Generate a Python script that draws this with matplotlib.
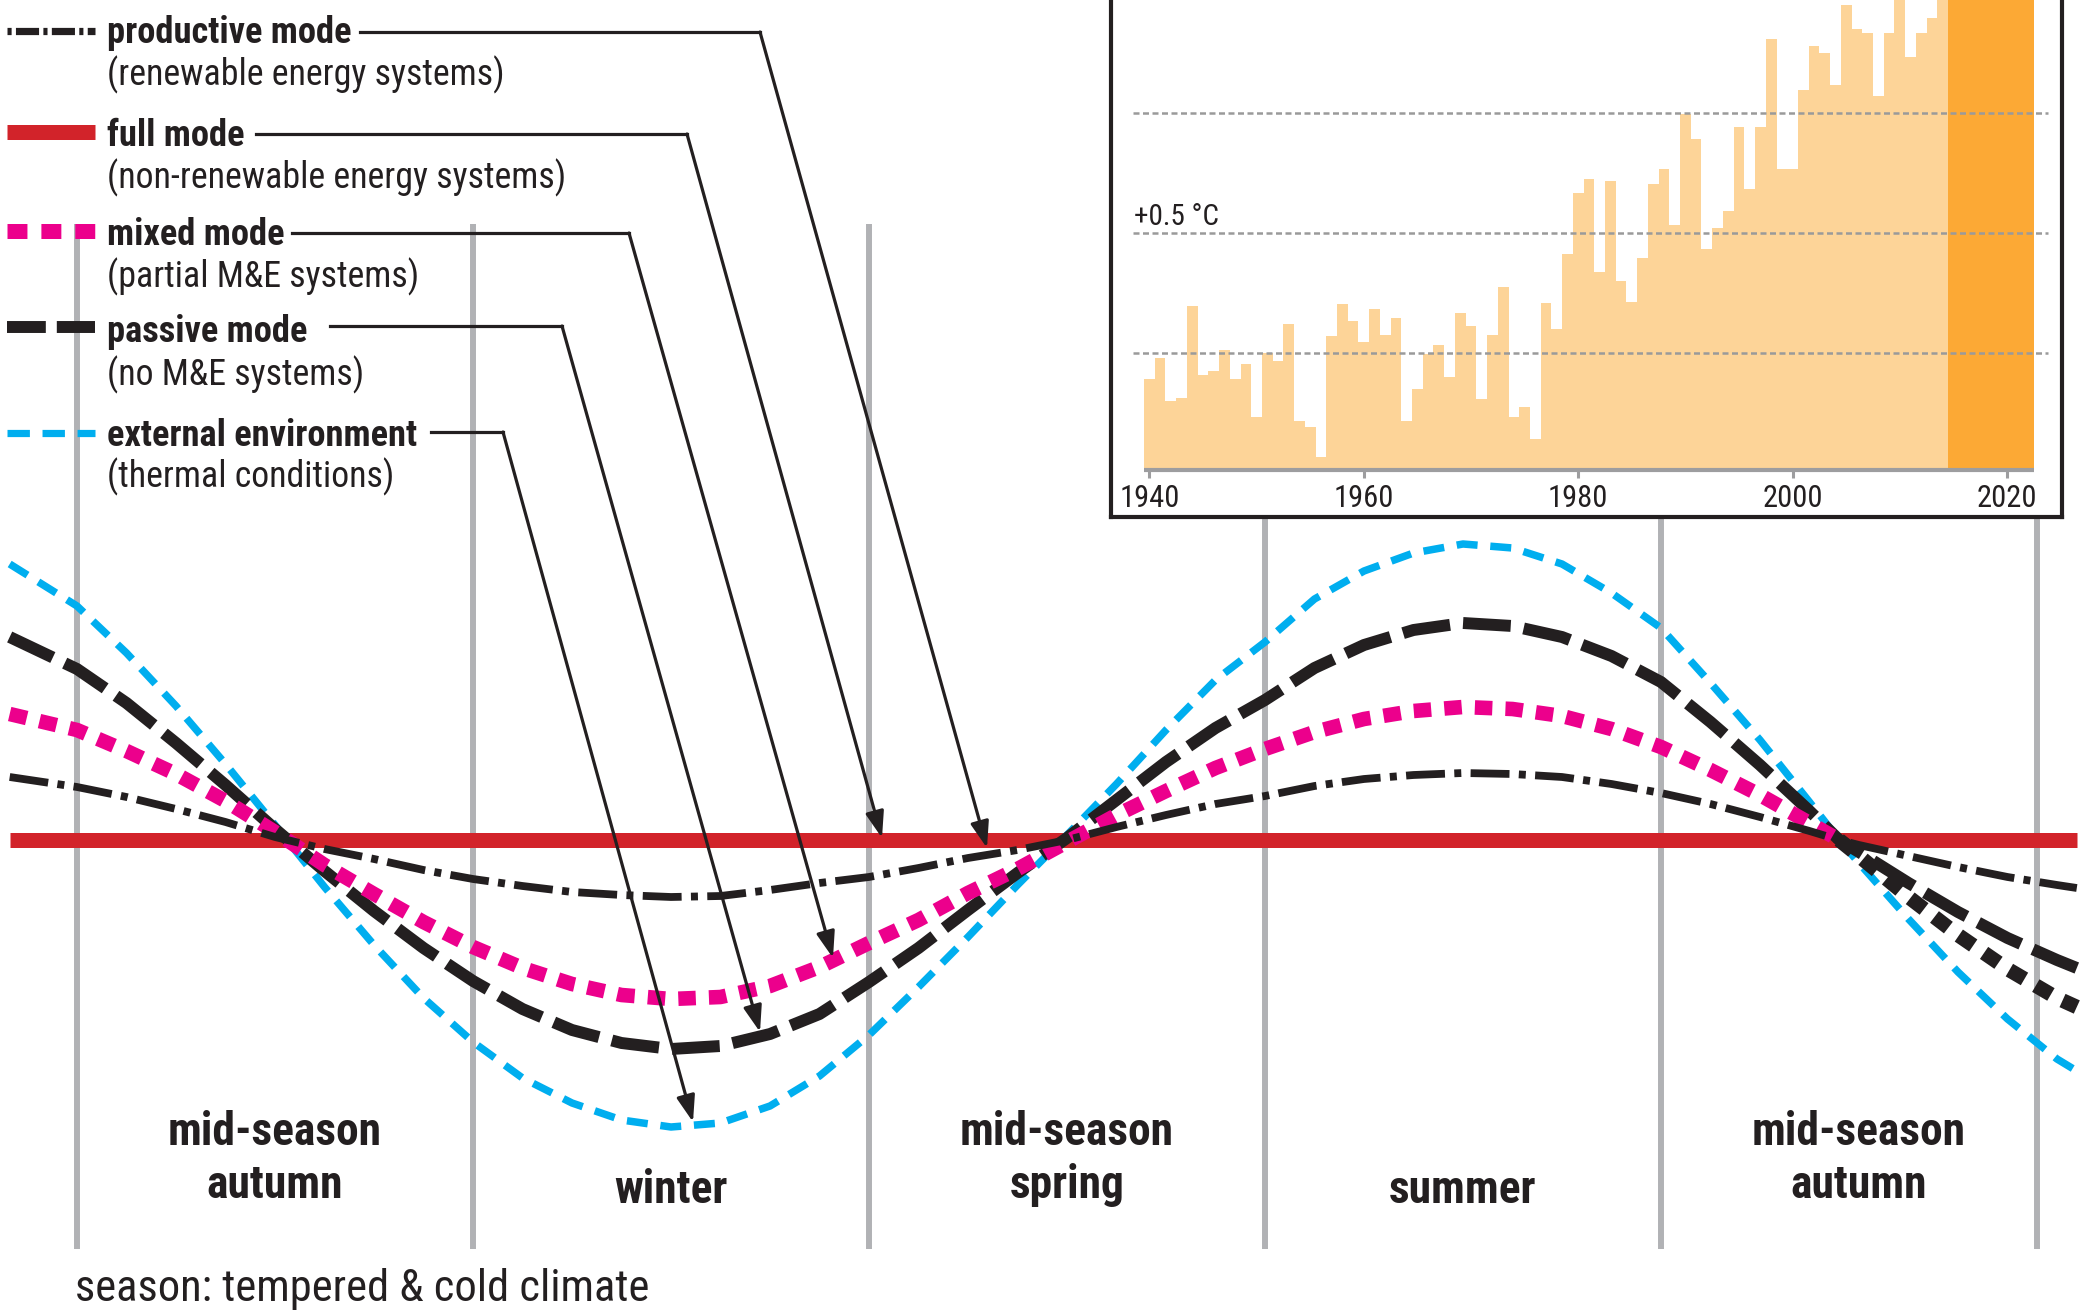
import matplotlib
matplotlib.use('Agg')
import matplotlib.pyplot as plt
from matplotlib import font_manager

W, H = 2090, 1315

# ---- season scheme (x in season units, y = deviation from the full-mode level) ----
season_lines = [0, 1, 2, 3, 4, 4.95]
season_centers = [0.5, 1.5, 2.5, 3.5, 4.5]
season_labels = ['mid-season\nautumn', 'winter', 'mid-season\nspring', 'summer', 'mid-season\nautumn']

s = [-0.17, 0.0, 0.125, 0.25, 0.375, 0.5, 0.625, 0.75, 0.875, 1.0, 1.125, 1.25, 1.375, 1.5,
     1.625, 1.75, 1.875, 2.0, 2.125, 2.25, 2.375, 2.5, 2.625, 2.75, 2.875, 3.0, 3.125, 3.25,
     3.375, 3.5, 3.625, 3.75, 3.875, 4.0, 4.125, 4.25, 4.375, 4.45, 4.5, 4.625, 4.75, 4.875,
     5.0, 5.05]
external = [2.76, 2.34, 1.87, 1.34, 0.76, 0.15, -0.47, -1.05, -1.58, -2.02, -2.38, -2.63, -2.80, -2.87,
            -2.83, -2.66, -2.36, -1.95, -1.47, -0.97, -0.45, 0.05, 0.56, 1.10, 1.60, 1.98, 2.41, 2.69,
            2.87, 2.96, 2.92, 2.76, 2.47, 2.12, 1.57, 1.00, 0.38, 0.0, -0.23, -0.79, -1.32, -1.79,
            -2.19, -2.31]
passive = [2.03, 1.71, 1.37, 0.97, 0.55, 0.11, -0.31, -0.71, -1.08, -1.41, -1.69, -1.90, -2.03, -2.09,
           -2.06, -1.94, -1.74, -1.42, -1.08, -0.70, -0.33, 0.02, 0.40, 0.78, 1.12, 1.40, 1.72, 1.95,
           2.10, 2.17, 2.14, 2.03, 1.84, 1.58, 1.18, 0.75, 0.29, 0.0, -0.12, -0.43, -0.72, -0.98,
           -1.20, -1.28]
mixed = [1.26, 1.10, 0.89, 0.66, 0.39, 0.08, -0.25, -0.54, -0.82, -1.07, -1.28, -1.44, -1.55, -1.59,
         -1.57, -1.46, -1.27, -1.03, -0.80, -0.53, -0.29, -0.02, 0.25, 0.49, 0.72, 0.91, 1.08, 1.21,
         1.29, 1.33, 1.31, 1.24, 1.11, 0.93, 0.70, 0.45, 0.17, 0.0, -0.16, -0.57, -0.95, -1.29,
         -1.58, -1.67]
productive = [0.63, 0.53, 0.43, 0.31, 0.18, 0.03, -0.09, -0.19, -0.30, -0.39, -0.46, -0.52, -0.55, -0.57,
              -0.56, -0.50, -0.43, -0.37, -0.28, -0.18, -0.10, 0.0, 0.13, 0.25, 0.36, 0.44, 0.54, 0.61,
              0.65, 0.67, 0.66, 0.63, 0.56, 0.47, 0.36, 0.23, 0.09, 0.0, -0.05, -0.16, -0.27, -0.37,
              -0.45, -0.48]
mixed_black_from = 4.45   # mixed mode is drawn black after the last crossing

# ---- inset: yearly temperature anomaly (deg C) ----
years = list(range(1940, 2023))
anomaly = [-0.107, -0.019, -0.199, -0.186, 0.197, -0.092, -0.074, 0.014, -0.107, -0.045,
           -0.265, 0.0, -0.032, 0.119, -0.282, -0.31, -0.432, 0.072, 0.205, 0.135,
           0.044, 0.185, 0.074, 0.145, -0.282, -0.151, -0.004, 0.035, -0.099, 0.165,
           0.111, -0.19, 0.074, 0.274, -0.265, -0.226, -0.357, 0.207, 0.099, 0.411,
           0.668, 0.726, 0.336, 0.715, 0.30, 0.214, 0.394, 0.703, 0.768, 0.532,
           0.994, 0.89, 0.432, 0.52, 0.59, 0.94, 0.682, 0.94, 1.307, 0.765,
           0.765, 1.095, 1.278, 1.249, 1.115, 1.449, 1.35, 1.332, 1.072, 1.332,
           1.60, 1.235, 1.332, 1.395, 1.55, 1.85, 1.95, 1.75, 1.80, 1.90,
           1.85, 1.80, 1.90]
dark_from = 2015
bar_base = -0.4875
grid_levels = [0.0, 0.5, 1.0]
year_ticks = [1940, 1960, 1980, 2000, 2020]

ink = '#231f20'
cyan = '#00aeef'
pink = '#ec008c'
red = '#d2232a'
gray = '#b1b2b5'

names = {f.name for f in font_manager.fontManager.ttflist}
FONT = 'DejaVu Sans'
for cand in ['Liberation Sans Narrow', 'Roboto Condensed', 'DejaVu Sans Condensed', 'Liberation Sans']:
    if cand in names:
        FONT = cand
        break
plt.rcParams['font.family'] = [FONT, 'DejaVu Sans']


def P(x, y):
    # picture pixel -> season/deviation coordinates
    return (x - 77) / 396, (840 - y) / 100


fig = plt.figure(figsize=(W / 100, H / 100), dpi=100)
ax = fig.add_axes([0, 0, 1, 1])
ax.set_xlim(P(0, 0)[0], P(W, 0)[0])
ax.set_ylim(P(0, H)[1], P(0, 0)[1])
ax.axis('off')

# season boundaries
ax.vlines(season_lines, P(0, 1249)[1], P(0, 224)[1], color=gray, lw=4.3, zorder=1)

# full mode
ax.plot([s[0], s[-1]], [0, 0], color=red, lw=10.8, solid_capstyle='butt', zorder=2)

ax.plot(s, external, color=cyan, lw=5.4, ls=(0, (2.8, 1.7)), dash_capstyle='butt', zorder=3)
ax.plot(s, passive, color=ink, lw=8.6, ls=(0, (4.0, 1.1)), dash_capstyle='butt', zorder=4)
sp = [x for x in s if x <= mixed_black_from]
sb = [x for x in s if x >= mixed_black_from]
ax.plot(sp, mixed[:len(sp)], color=pink, lw=10.5, ls=(0, (1.2, 0.9)), dash_capstyle='butt', zorder=5)
ax.plot(sb, mixed[len(s) - len(sb):], color=ink, lw=10.5, ls=(0, (1.2, 0.9)), dash_capstyle='butt', zorder=5)
ax.plot(s, productive, color=ink, lw=5.6, ls=(0, (5.0, 1.2, 0.9, 1.2)), dash_capstyle='butt', zorder=6)

# legend samples
x0, x1 = P(7, 0)[0], P(95, 0)[0]
ax.plot([x0, x1], [P(0, 31)[1]] * 2, color=ink, lw=5.2, ls=(0, (0.57, 0.6, 3.2, 0.6)), dash_capstyle='butt')
ax.plot([x0, x1], [P(0, 132)[1]] * 2, color=red, lw=10.8, solid_capstyle='butt')
ax.plot([x0, x1], [P(0, 231)[1]] * 2, color=pink, lw=10.8, ls=(0, (1.33, 0.93)), dash_capstyle='butt', zorder=2)
ax.plot([x0, x1], [P(0, 327)[1]] * 2, color=ink, lw=8.6, ls=(0, (3.25, 0.92)), dash_capstyle='butt', zorder=2)
ax.plot([x0, x1], [P(0, 433)[1]] * 2, color=cyan, lw=5.2, ls=(0, (3.1, 1.75)), dash_capstyle='butt', zorder=2)

legend = [
    ('productive mode', '(renewable energy systems)', 43, 85, 360, 32, 760, (987, 848)),
    ('full mode', '(non-renewable energy systems)', 146, 188, 256, 134, 687, (882, 838)),
    ('mixed mode', '(partial M&E systems)', 245, 287, 292, 233, 629, (833, 958)),
    ('passive mode', '(no M&E systems)', 342, 385, 330, 326, 562, (760, 1032)),
    ('external environment', '(thermal conditions)', 446, 487, 431, 432, 503, (693, 1122)),
]
for title, sub, yt, ys, lx, ly, cx, tip in legend:
    ax.text(*P(107, yt), title, fontsize=26.3, fontweight='bold', color=ink, va='baseline', zorder=8)
    ax.text(*P(107, ys), sub, fontsize=25.8, color=ink, va='baseline', zorder=8)
    a, b = P(lx, ly), P(cx, ly)
    ax.plot([a[0], b[0]], [a[1], b[1]], color=ink, lw=2.3, zorder=7)
    ax.annotate('', xy=P(*tip), xytext=b,
                arrowprops=dict(arrowstyle='-|>,head_length=0.8,head_width=0.28', color=ink, lw=2.3,
                                shrinkA=0, shrinkB=0, mutation_scale=20), zorder=7)

# season names
for xc, lab in zip(season_centers, season_labels):
    lines = lab.split('\n')
    if len(lines) == 2:
        ax.text(xc, P(0, 1145)[1], lines[0], fontsize=32.8, fontweight='bold', color=ink, ha='center', va='baseline')
        ax.text(xc, P(0, 1198)[1], lines[1], fontsize=32.8, fontweight='bold', color=ink, ha='center', va='baseline')
    else:
        ax.text(xc, P(0, 1203)[1], lines[0], fontsize=32.8, fontweight='bold', color=ink, ha='center', va='baseline')

ax.text(*P(75, 1301), 'season: tempered & cold climate', fontsize=32, color=ink, va='baseline')

# ---- inset bar chart ----
ax_in = fig.add_axes([1111 / W, 1 - 517 / H, 951 / W, 577 / H])
ax_in.set_xlim(1936.42, 2025.13)
ax_in.set_ylim(-0.6833, 1.7208)
ax_in.set_facecolor('white')
colors = ['#fca935' if y >= dark_from else '#fdd498' for y in years]
ax_in.bar(years, [v - bar_base for v in anomaly], bottom=bar_base, width=1.0, color=colors,
          edgecolor='none', zorder=2)
ax_in.hlines(grid_levels, 1938.47, 2023.83, color='#9a9a9a', lw=1.8, linestyles=(0, (2.4, 1.4)), zorder=3)
ax_in.hlines(bar_base, years[0] - 0.5, years[-1] + 0.5, color='#9d9d9f', lw=3.0, zorder=4)
ax_in.vlines(year_ticks, bar_base - 8 / 240, bar_base, color='#9d9d9f', lw=2.2, zorder=4)
for yt in year_ticks:
    ax_in.text(yt, -0.642, str(yt), fontsize=22, color=ink, ha='center', va='baseline')
ax_in.text(1938.6, 0.533, '+0.5 °C', fontsize=21, color=ink, va='baseline', zorder=5)
ax_in.set_xticks([])
ax_in.set_yticks([])
ax_in.spines['top'].set_visible(False)
for side in ['left', 'right', 'bottom']:
    ax_in.spines[side].set_linewidth(3.0)
    ax_in.spines[side].set_color(ink)

fig.savefig('out.png', dpi=100, facecolor='white')
